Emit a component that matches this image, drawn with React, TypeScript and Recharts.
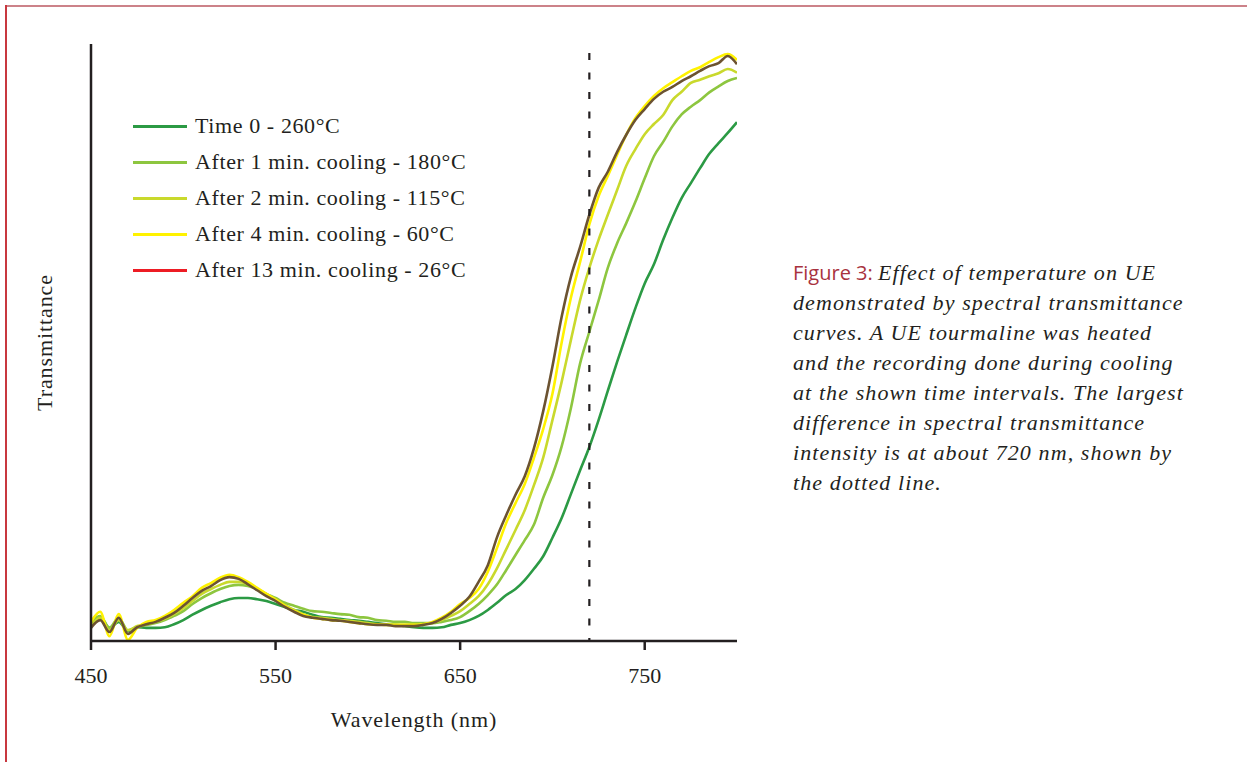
import React from 'react';
import { LineChart, Line, XAxis, YAxis, ReferenceLine, Legend, Label } from 'recharts';

const wavelengths = [
  450, 455, 460, 465, 470, 475, 480, 485, 490, 495,
  500, 505, 510, 515, 520, 525, 530, 535, 540, 545,
  550, 555, 560, 565, 570, 575, 580, 585, 590, 595,
  600, 605, 610, 615, 620, 625, 630, 635, 640, 645,
  650, 655, 660, 665, 670, 675, 680, 685, 690, 695,
  700, 705, 710, 715, 720, 725, 730, 735, 740, 745,
  750, 755, 760, 765, 770, 775, 780, 785, 790, 795,
  800,
];

const time0 = [
  2.8, 3.9, 2.2, 3.2, 1.7, 2.3, 2.2, 2.2, 2.3, 2.8,
  3.5, 4.4, 5.2, 5.9, 6.5, 7.0, 7.2, 7.2, 7.0, 6.7,
  6.2, 5.7, 5.2, 4.9, 4.4, 4.0, 3.9, 3.7, 3.5, 3.4,
  3.2, 3.0, 2.8, 2.7, 2.5, 2.3, 2.2, 2.2, 2.3, 2.7,
  3.0, 3.5, 4.2, 5.2, 6.4, 7.7, 8.7, 10.2, 12.1, 14.2,
  17.3, 20.6, 24.6, 28.6, 32.5, 37.0, 41.9, 46.7, 51.3, 55.8,
  59.9, 63.1, 67.2, 70.9, 74.2, 76.7, 79.2, 81.6, 83.4, 85.1,
  86.9,
];

const cooling1 = [
  3.2, 4.2, 2.2, 3.9, 1.8, 2.3, 2.7, 3.0, 3.5, 4.2,
  5.0, 6.2, 7.2, 8.0, 8.7, 9.2, 9.4, 9.2, 8.7, 7.9,
  7.2, 6.4, 5.9, 5.4, 5.0, 4.9, 4.7, 4.5, 4.4, 4.0,
  3.9, 3.5, 3.4, 3.2, 3.2, 3.0, 3.0, 3.0, 3.2, 3.5,
  4.0, 5.0, 6.2, 7.7, 9.5, 11.9, 14.4, 16.9, 19.5, 24.0,
  27.8, 32.6, 39.0, 46.5, 51.8, 57.0, 62.5, 66.6, 70.0, 73.6,
  77.5, 81.2, 83.6, 86.2, 88.2, 89.5, 90.6, 91.9, 92.9, 93.8,
  94.3,
];

const cooling2 = [
  2.5, 3.9, 1.8, 3.5, 1.8, 2.5, 2.8, 3.2, 3.7, 4.5,
  5.5, 6.7, 7.9, 8.7, 9.4, 9.9, 9.9, 9.5, 8.7, 7.9,
  7.0, 6.0, 5.2, 4.5, 4.0, 3.9, 3.7, 3.5, 3.4, 3.2,
  3.0, 2.8, 2.8, 2.7, 2.7, 2.7, 2.8, 3.0, 3.5, 4.2,
  5.0, 6.2, 7.5, 9.5, 12.2, 15.4, 18.6, 21.9, 26.1, 30.7,
  37.0, 43.4, 50.4, 57.1, 62.5, 67.2, 71.4, 75.5, 79.6, 82.4,
  84.9, 86.6, 88.1, 90.6, 92.0, 93.5, 94.0, 94.6, 95.1, 95.8,
  95.2,
];

const cooling4 = [
  3.2, 4.9, 0.8, 4.5, 0.2, 2.2, 3.2, 3.5, 4.2, 5.2,
  6.4, 7.5, 8.9, 9.7, 10.6, 11.1, 10.7, 9.9, 8.9, 7.9,
  6.9, 5.9, 5.0, 4.4, 3.9, 3.7, 3.5, 3.4, 3.2, 3.0,
  2.8, 2.8, 2.7, 2.7, 2.7, 2.7, 2.8, 3.2, 3.9, 4.9,
  6.2, 7.2, 8.7, 11.6, 15.6, 19.8, 23.1, 26.3, 30.7, 35.5,
  41.4, 50.0, 57.5, 63.5, 69.8, 74.5, 77.9, 81.4, 84.8, 87.6,
  89.6, 91.3, 92.6, 93.6, 94.6, 95.5, 96.1, 97.0, 97.8, 98.3,
  97.3,
];

const cooling13 = [
  2.2, 3.5, 1.5, 3.9, 1.2, 2.3, 2.8, 3.2, 3.9, 4.7,
  5.9, 7.2, 8.4, 9.2, 10.2, 10.7, 10.4, 9.5, 8.5, 7.5,
  6.7, 5.7, 4.9, 4.2, 3.9, 3.7, 3.5, 3.4, 3.2, 3.0,
  2.8, 2.7, 2.7, 2.5, 2.5, 2.5, 2.7, 3.0, 3.7, 4.7,
  5.9, 7.4, 9.9, 12.7, 17.4, 21.1, 24.5, 27.6, 32.3, 38.5,
  46.0, 54.3, 61.0, 66.0, 71.4, 75.9, 78.6, 81.9, 84.8, 87.3,
  89.1, 90.8, 92.0, 92.8, 93.8, 94.6, 95.5, 96.3, 96.8, 98.0,
  96.6,
];

const xTicks = [450, 550, 650, 750];
const markerWavelength = 720;

const seriesNames = [
  'Time 0 - 260°C',
  'After 1 min. cooling - 180°C',
  'After 2 min. cooling - 115°C',
  'After 4 min. cooling - 60°C',
  'After 13 min. cooling - 26°C',
];
const seriesKeys = ['t0', 'c1', 'c2', 'c4', 'c13'];
const lineColors = ['#2b9a44', '#8dc63f', '#c9d92c', '#fff200', '#6c5331'];
const legendColors = ['#2b9a44', '#8dc63f', '#c9d92c', '#fff200', '#ed1c24'];

const captionLines = [
  'Effect of temperature on UE',
  'demonstrated by spectral transmittance',
  'curves. A UE tourmaline was heated',
  'and the recording done during cooling',
  'at the shown time intervals. The largest',
  'difference in spectral transmittance',
  'intensity is at about 720 nm, shown by',
  'the dotted line.',
];

const data = wavelengths.map((wl, i) => ({
  wl,
  t0: time0[i],
  c1: cooling1[i],
  c2: cooling2[i],
  c4: cooling4[i],
  c13: cooling13[i],
}));

const SERIF = '"Liberation Serif", "Times New Roman", serif';
const INK = '#231f20';

const renderLegend = () => (
  <div style={{ fontFamily: SERIF, fontSize: 22, color: INK, letterSpacing: 0.6 }}>
    {seriesNames.map((name, i) => (
      <div key={name} style={{ display: 'flex', alignItems: 'center', height: 36, whiteSpace: 'nowrap' }}>
        <div style={{ width: 54, height: 3, background: legendColors[i], marginRight: 8 }} />
        <span>{name}</span>
      </div>
    ))}
  </div>
);

const YTitle = (props: any) => {
  const vb = props.viewBox || {};
  const x = vb.x - 46;
  const y = vb.y + vb.height / 2;
  return (
    <text
      x={x}
      y={y}
      transform={`rotate(-90, ${x}, ${y})`}
      textAnchor="middle"
      dominantBaseline="central"
      style={{ fontFamily: SERIF, fontSize: 22, fill: INK, letterSpacing: 0.9 }}
    >
      Transmittance
    </text>
  );
};

const XTitle = (props: any) => {
  const vb = props.viewBox || {};
  const x = vb.x + vb.width / 2;
  const y = vb.y + 78;
  return (
    <text
      x={x}
      y={y}
      textAnchor="middle"
      dominantBaseline="central"
      style={{ fontFamily: SERIF, fontSize: 22, fill: INK, letterSpacing: 0.9 }}
    >
      Wavelength (nm)
    </text>
  );
};

export default function App() {
  return (
    <div style={{ position: 'absolute', left: 0, top: 0, width: 1247, height: 762, background: '#fff', overflow: 'hidden' }}>
      <div style={{ position: 'absolute', left: 5, top: 5, right: 0, height: 2, background: '#cc8289' }} />
      <div style={{ position: 'absolute', left: 5, top: 5, bottom: 0, width: 1.6, background: '#c8383f' }} />
      <div style={{ position: 'absolute', left: 0, top: 0 }}>
        <LineChart width={1247} height={762} data={data} margin={{ top: 44, right: 510, bottom: 81, left: 90 }}>
          <XAxis
            dataKey="wl"
            type="number"
            domain={[450, 800]}
            ticks={xTicks}
            height={40}
            tickSize={9}
            tickMargin={17}
            axisLine={{ stroke: INK, strokeWidth: 2.5 }}
            tickLine={{ stroke: INK, strokeWidth: 2.5 }}
            tick={{ fontFamily: SERIF, fontSize: 22, fill: INK }}
            allowDataOverflow
          >
            <Label content={<XTitle />} />
          </XAxis>
          <YAxis
            type="number"
            domain={[0, 100]}
            width={1}
            tick={false}
            tickLine={false}
            axisLine={{ stroke: INK, strokeWidth: 2.5 }}
            allowDataOverflow
          >
            <Label content={<YTitle />} />
          </YAxis>
          <Legend
            layout="horizontal"
            verticalAlign="middle"
            align="center"
            content={renderLegend}
            wrapperStyle={{ left: 133, top: 108, width: 420, height: 180 }}
          />
          {seriesKeys.map((k, i) => (
            <Line
              key={k}
              dataKey={k}
              name={seriesNames[i]}
              type="monotone"
              stroke={lineColors[i]}
              strokeWidth={2.6}
              dot={false}
              activeDot={false}
              isAnimationActive={false}
            />
          ))}
          <ReferenceLine
            segment={[{ x: markerWavelength, y: 98.5 }, { x: markerWavelength, y: 0 }]}
            stroke={INK}
            strokeWidth={2.2}
            strokeDasharray="7 12.5"
          />
        </LineChart>
      </div>
      <div
        style={{
          position: 'absolute',
          left: 793,
          top: 258,
          fontFamily: SERIF,
          fontStyle: 'italic',
          fontSize: 22,
          lineHeight: '30px',
          color: INK,
          letterSpacing: 1.1,
          whiteSpace: 'nowrap',
        }}
      >
        {captionLines.map((line, i) => (
          <div key={i}>
            {i === 0 && (
              <span style={{ fontFamily: '"Open Sans", "Noto Sans", sans-serif', fontStyle: 'normal', color: '#a8323e', letterSpacing: 0, fontSize: 20 }}>
                Figure 3:{' '}
              </span>
            )}
            {line}
          </div>
        ))}
      </div>
    </div>
  );
}
